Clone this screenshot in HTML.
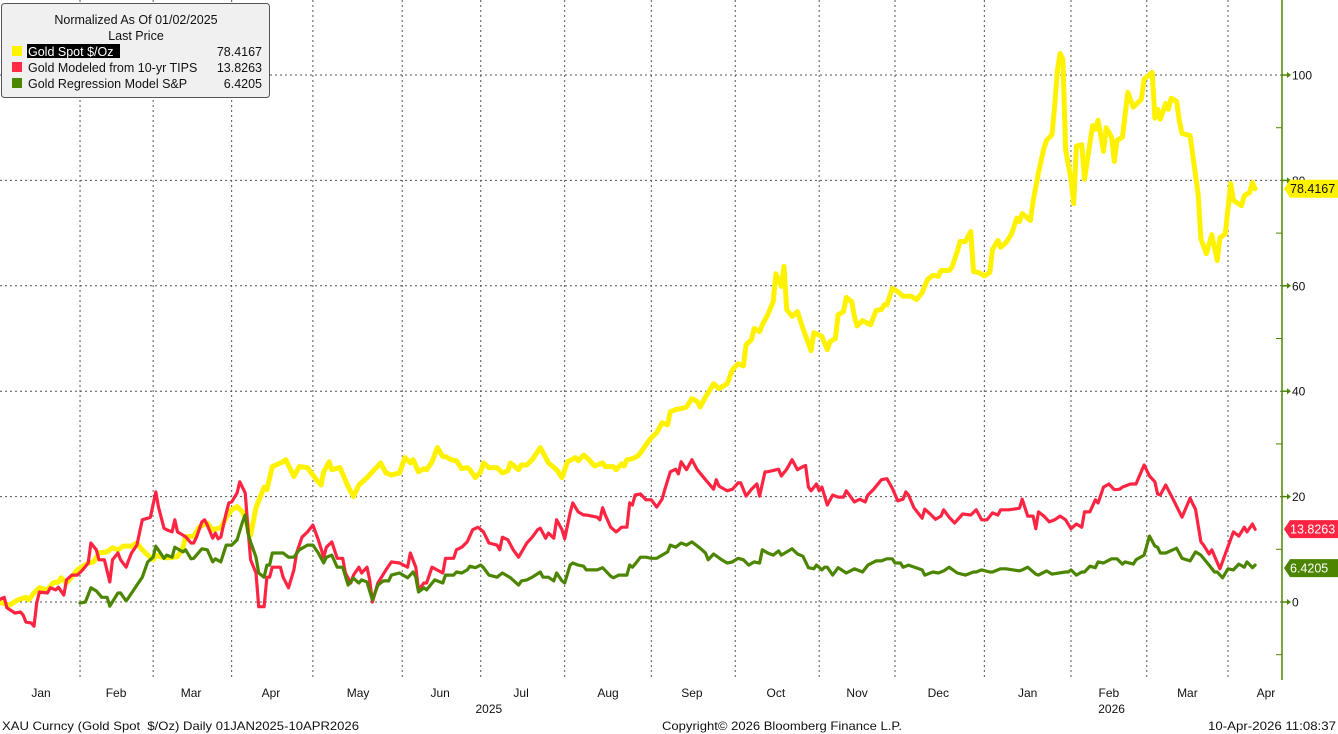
<!DOCTYPE html>
<html><head><meta charset="utf-8">
<style>
body{margin:0;background:#fff;width:1338px;height:734px;overflow:hidden;font-family:"Liberation Sans",sans-serif;}
svg{display:block}
text{font-family:"Liberation Sans",sans-serif;}
</style></head>
<body>
<svg id="chart" width="1338" height="734" viewBox="0 0 1338 734" xmlns="http://www.w3.org/2000/svg">
<g id="grid"></g>
<g id="series"></g>
<g id="axis"></g>
<g id="xaxis"></g>
<g>
 <rect x="1.5" y="3.5" width="268" height="94" rx="3" fill="#f0f0f0" stroke="#555" stroke-width="1"/>
 <text x="136" y="24" font-size="12.5" text-anchor="middle" fill="#111">Normalized As Of 01/02/2025</text>
 <text x="136" y="40" font-size="12.5" text-anchor="middle" fill="#111">Last Price</text>
 <rect x="12" y="46" width="10" height="10" fill="#fff200"/>
 <rect x="27" y="44" width="93" height="14" fill="#000"/>
 <text x="28" y="56" font-size="12.5" fill="#fff">Gold Spot $/Oz</text>
 <text x="262" y="56" font-size="12.5" text-anchor="end" fill="#111">78.4167</text>
 <rect x="12" y="62" width="10" height="10" fill="#ff2a44"/>
 <text x="28" y="72" font-size="12.5" fill="#111">Gold Modeled from 10-yr TIPS</text>
 <text x="262" y="72" font-size="12.5" text-anchor="end" fill="#111">13.8263</text>
 <rect x="12" y="78" width="10" height="10" fill="#4c8500"/>
 <text x="28" y="88" font-size="12.5" fill="#111">Gold Regression Model S&amp;P</text>
 <text x="262" y="88" font-size="12.5" text-anchor="end" fill="#111">6.4205</text>
</g>
<g>
 <text x="2" y="730" font-size="12" fill="#111" textLength="357" lengthAdjust="spacingAndGlyphs">XAU Curncy (Gold Spot &#160;$/Oz) Daily 01JAN2025-10APR2026</text>
 <text x="662" y="730" font-size="12" fill="#111" textLength="240" lengthAdjust="spacingAndGlyphs">Copyright© 2026 Bloomberg Finance L.P.</text>
 <text x="1336" y="730" font-size="12" fill="#111" text-anchor="end" textLength="128" lengthAdjust="spacingAndGlyphs">10-Apr-2026 11:08:37</text>
</g>
</svg>
<script>
const yellowDays=[1,5,8,11,12,14,16,19,21,23,24,26,28,30,34,36,38,41,43,45,47,50,52,54,56,58,59,62,64,67,69,70,73,75,78,80,83,85,87,89,91,93,94,96,99,100,102,106,107,110,112,115,118,120,121,123,124,127,130,132,134,137,139,142,144,146,149,151,153,154,156,158,159,161,163,165,166,168,170,172,174,175,177,179,180,182,185,187,189,190,193,194,196,198,201,203,204,207,209,211,214,215,217,219,221,224,225,228,229,231,232,233,235,237,238,240,242,244,246,248,249,251,253,255,257,259,260,262,265,267,270,272,274,276,277,279,280,282,283,285,287,288,290,291,292,294,296,298,301,302,305,307,308,310,311,313,314,316,317,318,320,323,325,327,328,329,331,333,335,338,340,342,344,346,348,349,352,353,355,356,358,360,361,363,365,367,368,370,371,373,375,377,378,379,380,382,383,385,387,388,390,391,392,393,394,395,397,398,399,401,402,405,406,407,409,410,412,413,414,416,418,420,423,424,427,428,429,430,432,433,434,436,437,438,441,444,445,447,449,451,452,454,456,457,460,461,463,464,465];
const yellowVals=[0,-0.6,0.4,0.9,0.4,1.7,2.7,2.3,3.6,3.8,4.6,3.6,4.8,6.1,7.4,7.6,9.3,9.5,10.3,9.9,10.6,10.6,11.2,9.9,8.9,8.0,8.9,8.4,8.4,8.6,10.3,12.4,12.5,14.2,15.0,13.7,14.1,16.0,17.5,18.1,17.1,14.3,12.7,17.9,21.8,21.3,25.7,26.6,27.0,23.8,25.7,25.5,23.4,22.2,24.7,26.6,25.1,25.5,21.9,20.0,22.2,23.6,24.7,26.4,24.5,24.1,24.5,27.4,26.4,27.0,24.7,25.3,25.1,26.6,29.3,27.6,27.6,27.0,26.8,25.3,25.5,25.1,23.6,24.7,26.4,25.5,25.5,24.5,24.9,26.4,25.1,26.0,26.0,27.0,29.3,27.4,26.4,25.1,23.6,26.6,27.4,26.8,27.9,27.0,25.8,26.4,25.7,25.7,25.1,26.2,25.8,27.0,27.2,27.7,28.3,29.8,31.2,32.1,34.0,33.6,36.1,36.5,36.7,37.0,38.6,38.0,37.0,38.9,41.4,40.5,41.4,44.1,45.2,44.8,48.8,49.8,51.9,51.3,52.6,54.5,57.0,62.3,59.9,63.7,55.5,54.2,55.1,51.9,47.7,51.1,50.4,47.9,49.4,50.0,54.5,55.1,57.8,57.0,54.2,52.4,53.4,52.6,55.3,55.5,56.4,56.4,59.5,58.9,58.0,58.0,57.4,58.7,61.2,62.0,61.8,62.9,62.9,63.5,66.5,68.4,68.4,70.3,62.7,62.5,61.9,62.5,66.9,68.6,67.3,68.2,69.8,72.8,72.2,73.7,73.3,72.4,76.0,81.5,86.1,87.6,88.7,94.2,100.9,104.1,103.0,85.9,80.2,75.6,86.5,86.8,80.2,90.4,89.7,91.4,85.5,90.0,88.2,83.6,87.6,88.2,96.7,93.9,95.4,99.2,100.5,91.8,93.5,91.6,94.6,93.5,95.6,95.0,91.4,88.9,88.5,77.3,68.9,66.1,69.7,64.8,69.1,69.9,79.4,76.2,75.2,77.1,77.7,79.6,78.4];
const redDays=[1,3,4,7,9,10,11,13,14,15,16,19,20,22,23,25,26,28,30,32,34,35,37,38,40,42,43,45,46,48,49,50,52,54,56,57,59,60,62,63,65,66,67,69,70,72,73,74,76,77,78,80,81,82,83,85,86,87,89,90,92,93,94,96,97,99,100,101,102,105,106,108,110,111,113,115,117,119,121,122,124,126,128,129,131,132,134,135,137,138,139,141,144,146,149,152,153,155,156,158,159,161,165,166,169,170,172,174,176,178,180,182,185,186,187,189,191,193,196,198,200,201,203,204,206,207,209,210,212,213,215,217,218,222,223,224,225,227,229,230,231,233,234,235,236,238,240,242,244,246,247,249,251,252,253,255,257,259,262,265,266,267,270,272,274,275,277,279,281,282,284,285,289,290,292,294,296,298,299,300,301,303,304,305,307,309,311,313,314,317,319,321,322,324,327,329,331,333,335,336,337,339,342,343,345,347,349,350,352,354,357,360,362,364,366,368,370,371,374,378,379,381,383,384,385,387,389,391,393,395,397,399,401,402,404,406,407,409,411,413,415,416,419,421,424,426,428,429,430,432,435,438,441,442,443,445,446,448,449,452,454,457,459,461,462,464,465];
const redVals=[0.4,0.9,-1.1,-2.1,-1.9,-2.5,-3.8,-4.0,-4.6,-0.2,1.9,1.7,2.7,2.3,2.8,1.3,4.2,5.1,5.1,6.1,7.4,11.2,9.9,8.0,8.0,3.8,8.0,9.3,8.0,6.6,8.0,9.3,10.8,15.6,15.9,16.1,20.9,18.0,14.0,13.7,13.3,15.6,13.3,12.7,12.4,11.2,11.2,12.3,15.2,15.6,14.6,12.1,13.1,12.0,12.3,16.9,18.8,19.0,20.7,22.8,20.7,14.2,8.0,5.5,-0.9,-0.9,4.7,4.7,6.6,6.6,4.7,2.7,6.1,9.3,12.3,13.3,14.6,11.8,8.5,10.4,11.4,8.3,8.3,5.5,3.6,5.1,6.6,5.5,6.6,4.2,0.0,3.6,6.1,7.6,7.4,6.6,9.3,6.6,2.3,3.6,3.6,6.6,5.5,8.3,8.3,9.9,10.4,11.4,13.7,14.2,13.3,11.2,10.8,9.9,12.3,11.8,9.9,8.5,11.2,12.3,13.7,14.0,12.1,13.1,12.1,15.6,13.7,12.0,16.9,18.8,17.1,16.5,16.5,16.1,15.6,17.9,16.5,14.2,13.3,13.7,14.2,14.2,18.8,18.4,20.3,20.5,19.4,19.4,18.0,19.5,21.4,24.7,25.2,24.3,26.6,25.1,27.0,25.1,23.2,21.4,23.2,22.0,21.1,21.4,22.6,22.6,20.1,21.4,22.4,20.1,24.7,24.7,25.2,23.9,25.2,27.0,25.1,25.7,25.9,21.8,21.1,22.4,21.1,21.8,18.4,20.3,19.9,19.9,21.1,19.0,19.5,19.0,20.3,21.3,23.2,23.4,21.6,19.2,19.5,20.9,20.3,17.9,15.9,17.6,16.7,15.7,16.3,17.5,16.1,15.0,16.7,16.5,17.5,15.6,15.6,16.9,16.5,17.5,17.5,17.8,19.5,16.3,16.3,13.9,17.1,16.3,15.2,15.6,16.3,15.6,13.9,14.8,14.2,17.1,17.1,19.4,18.8,21.8,22.4,21.3,21.4,21.8,22.4,22.4,26.0,23.9,22.8,20.5,20.3,22.2,19.2,16.1,19.7,18.6,17.6,11.4,10.8,9.1,9.9,6.3,9.1,13.3,12.5,14.2,13.3,14.8,13.8];
const greenDays=[31,33,35,37,39,41,42,45,46,48,49,52,54,56,58,59,62,63,65,66,69,70,72,73,76,78,80,81,83,85,87,89,91,92,93,94,96,97,99,100,101,102,106,108,110,112,115,117,119,121,122,124,126,128,130,132,134,135,137,139,141,143,145,146,149,152,154,155,156,158,159,162,165,166,169,170,172,174,175,177,179,180,182,185,187,190,193,194,196,198,201,202,204,206,207,209,210,212,213,215,217,218,222,224,227,228,230,233,234,235,236,238,240,242,244,246,248,249,251,253,255,257,260,262,263,265,268,270,272,274,276,278,280,282,283,285,287,289,290,294,296,298,300,302,303,305,306,307,309,311,314,317,320,322,325,327,329,331,332,334,335,337,342,343,346,348,350,352,355,358,361,362,364,367,368,371,373,378,379,381,384,385,388,390,395,396,397,399,401,402,404,406,407,409,412,414,416,417,420,421,424,426,428,429,430,432,436,438,441,443,445,448,450,451,453,455,457,459,461,462,464,465];
const greenVals=[-0.2,0.0,2.7,2.1,0.9,0.9,-0.8,1.7,1.7,0.2,0.9,3.2,4.7,7.6,8.5,10.6,8.3,8.9,8.5,10.4,9.5,9.9,8.2,8.3,10.1,9.9,7.6,8.2,7.6,10.8,10.8,11.8,15.2,16.5,13.1,11.4,8.5,5.5,4.7,7.0,7.0,9.3,9.3,8.5,8.5,9.9,10.8,10.8,9.3,7.4,8.5,8.9,6.6,6.6,3.2,4.5,3.6,4.2,3.8,0.4,3.2,4.0,4.0,5.1,5.5,4.6,5.7,4.7,1.9,2.7,2.3,4.2,3.6,5.1,5.1,5.7,5.5,6.1,6.8,6.5,7.0,6.5,5.1,4.7,5.5,4.6,3.2,4.0,4.2,4.7,5.7,4.7,4.7,4.0,5.5,4.0,3.6,7.0,7.4,7.0,6.8,6.1,6.1,6.5,4.9,4.6,5.1,5.1,7.0,6.6,7.2,8.5,8.5,8.3,8.3,8.9,9.5,10.8,10.4,11.2,10.8,11.4,10.2,9.3,8.0,9.1,8.0,7.4,7.6,8.3,8.0,7.0,7.6,7.4,9.9,9.3,8.9,9.7,8.9,10.1,9.1,8.7,6.5,6.3,7.0,6.1,6.6,6.6,5.1,6.5,5.5,6.3,5.7,7.0,7.8,7.8,8.2,8.2,7.4,7.4,6.6,7.0,6.1,5.1,5.7,5.5,5.9,6.6,5.5,5.1,5.7,5.7,6.1,5.7,5.7,6.3,6.3,5.9,6.1,6.6,5.3,5.1,5.9,5.3,5.7,5.7,6.1,5.1,5.7,5.7,6.8,6.5,7.6,7.4,8.2,8.2,7.2,7.6,7.2,8.0,8.9,12.5,10.6,10.4,9.3,9.3,10.2,8.3,7.8,9.5,8.9,7.0,5.7,5.7,4.6,6.3,6.1,7.2,6.6,7.6,6.5,7.0,6.4];
const yTicks=[0,20,40,60,80,100];
const yMinorTicks=[-10,10,30,50,70,90];
const monthStarts=[31,58,87,117,150,179,210,242,273,304,332,365,397,425,455];
const monthLabels=["Jan","Feb","Mar","Apr","May","Jun","Jul","Aug","Sep","Oct","Nov","Dec","Jan","Feb","Mar","Apr"];
const monthLabelDays=[16.6,44.3,72,101.5,133.7,164,193.9,226,257,288,318,348,381,411,440,469];
const yearLabels=["2025","2026"];
const yearLabelDays=[182,412];
const lastVals=[78.4167,13.8263,6.4205];

const NS="http://www.w3.org/2000/svg";
const X=d=>-3.9+2.7075*d;
const Y=v=>602-5.27*v;
const AX=1282, PB=680;
function mk(tag,attrs,parent){const e=document.createElementNS(NS,tag);for(const k in attrs)e.setAttribute(k,attrs[k]);parent.appendChild(e);return e;}
const grid=document.getElementById('grid'),ser=document.getElementById('series'),ax=document.getElementById('axis'),xa=document.getElementById('xaxis');
yTicks.forEach(v=>{
  const l=mk('line',{x1:0,x2:AX,y1:Y(v),y2:Y(v),stroke:'#555','stroke-width':1,'stroke-dasharray':'2,3'},grid);
  
  
});
monthStarts.forEach(d=>{
  const l=mk('line',{x1:X(d),x2:X(d),y1:0,y2:PB,stroke:'#555','stroke-width':1,'stroke-dasharray':'2,3'},grid);
  
  
});
function line(days,vals,color,w,name){
  const pts=days.map((d,i)=>X(d).toFixed(1)+','+Y(vals[i]).toFixed(1)).join(' ');
  const p=mk('polyline',{points:pts,fill:'none',stroke:color,'stroke-width':w,'stroke-linejoin':'round','stroke-linecap':'round'},ser);
  
  
}
line(yellowDays,yellowVals,'#fff200',5,'gold-spot-line');
line(redDays,redVals,'#ff2442',3.2,'tips-model-line');
line(greenDays,greenVals,'#4c8500',3.2,'sp-model-line');
mk('line',{x1:AX,x2:AX,y1:0,y2:PB,stroke:'#4c8500','stroke-width':1.5},ax);
yTicks.forEach(v=>{
  const y=Y(v);
  mk('line',{x1:AX,x2:AX+6,y1:y,y2:y,stroke:'#4c8500','stroke-width':1.5},ax);
  mk('path',{d:`M${AX+5},${y-3}L${AX+9},${y}L${AX+5},${y+3}Z`,fill:'#4c8500'},ax);
  const t=mk('text',{x:AX+10,y:y+4.5,'font-size':12,fill:'#111'},ax);
  t.textContent=v;
  
  
});
yMinorTicks.forEach(v=>{mk('line',{x1:AX-6,x2:AX,y1:Y(v),y2:Y(v),stroke:'#4c8500','stroke-width':1},ax);});
const tagCols=[['#fff200','#111'],['#ff2442','#fff'],['#4c8500','#fff']];
const tagNames=['gold-spot-last-value','tips-model-last-value','sp-model-last-value'];
lastVals.forEach((v,i)=>{
  const y=Y(v);
  const g=mk('g',{},ax);
  
  
  mk('path',{d:`M${AX+2},${y}L${AX+8},${y-9}L1338,${y-9}L1338,${y+9}L${AX+8},${y+9}Z`,fill:tagCols[i][0]},g);
  const t=mk('text',{x:AX+8,y:y+4.5,'font-size':12.5,fill:tagCols[i][1]},g);
  t.textContent=v.toFixed(4);
});
monthLabels.forEach((m,i)=>{
  const t=mk('text',{x:X(monthLabelDays[i]),y:697,'font-size':12,'text-anchor':'middle',fill:'#111'},xa);
  t.textContent=m;
  
  
});
yearLabels.forEach((yl,i)=>{
  const t=mk('text',{x:X(yearLabelDays[i]),y:713,'font-size':12,'text-anchor':'middle',fill:'#111'},xa);
  t.textContent=yl;
  
  
});
</script>
</body></html>
